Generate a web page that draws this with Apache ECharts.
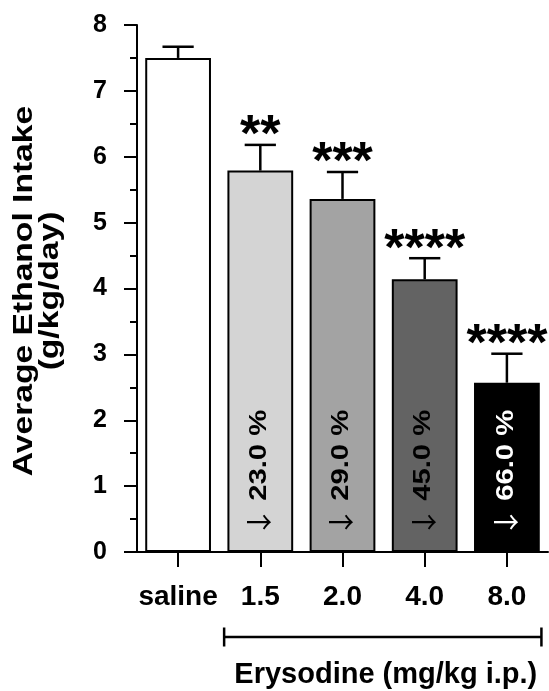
<!DOCTYPE html>
<html>
<head>
<meta charset="utf-8">
<script src="https://cdn.jsdelivr.net/npm/echarts@6/dist/echarts.min.js"></script>
<style>
html,body{margin:0;padding:0;background:#fff;}
#main{width:549px;height:691px;}
</style>
</head>
<body>
<div id="main"></div>
<script>
// ---- data ----
var categories = ['saline', '1.5', '2.0', '4.0', '8.0'];
var means = [7.50, 5.79, 5.36, 4.14, 2.57];
var sems = [0.17, 0.39, 0.41, 0.32, 0.44];
var stars = ['', '**', '***', '****', '****'];
var reductions = [null, 23.0, 29.0, 45.0, 66.0];
var fills = ['#ffffff', '#d4d4d4', '#a3a3a3', '#636363', '#000000'];
var labelColors = ['#000000', '#000000', '#000000', '#000000', '#ffffff'];
var yTicks = [0, 1, 2, 3, 4, 5, 6, 7, 8];
var yTitle = 'Average Ethanol Intake\n(g/kg/day)';
var groupName = 'Erysodine (mg/kg i.p.)';
var groupRange = [1, 4];

var FONT = '"Liberation Sans", Arial, sans-serif';
var chart = echarts.init(document.getElementById('main'), null, {renderer: 'canvas'});

var barData = means.map(function (v, i) {
  return {value: v, itemStyle: {color: fills[i]}};
});
var errData = means.map(function (v, i) { return [i, v, v + sems[i], stars[i]]; });
var redData = reductions.map(function (r, i) { return [i, 0, r]; });

var option = {
  animation: false,
  backgroundColor: '#ffffff',
  grid: {left: 137, right: 1, top: 25, bottom: 139, containLabel: false, outerBoundsMode: 'none'},
  graphic: [{
    type: 'text',
    x: 37, y: 291,
    rotation: Math.PI / 2,
    scaleX: 1.2,
    style: {
      text: yTitle, align: 'center', verticalAlign: 'middle',
      fontSize: 28, fontWeight: 'bold', fontFamily: FONT, lineHeight: 26, fill: '#000'
    }
  }],
  xAxis: {
    type: 'category',
    data: categories,
    axisLine: {lineStyle: {color: '#000', width: 2}},
    axisTick: {show: true, alignWithLabel: true, length: 15, lineStyle: {color: '#000', width: 2}},
    axisLabel: {color: '#000', fontSize: 28, fontWeight: 'bold', fontFamily: FONT, margin: 31, interval: 0},
    splitLine: {show: false}
  },
  yAxis: {
    type: 'value',
    min: 0, max: 8, interval: 1,
    axisLine: {show: true, lineStyle: {color: '#000', width: 2}},
    axisTick: {show: true, length: 13, lineStyle: {color: '#000', width: 2}},
    minorTick: {show: true, splitNumber: 2, length: 7, lineStyle: {color: '#000', width: 2}},
    axisLabel: {
      color: '#000', fontSize: 25, fontWeight: 'bold', fontFamily: FONT, margin: 30,
      formatter: function (v) { return yTicks.indexOf(v) >= 0 ? String(v) : ''; }
    },
    splitLine: {show: false}
  },
  series: [
    {
      type: 'bar',
      data: barData,
      barWidth: '80%',
      itemStyle: {borderColor: '#000', borderWidth: 2},
      z: 2
    },
    {
      type: 'custom',
      data: redData,
      z: 4,
      clip: false,
      silent: true,
      renderItem: function (params, api) {
        var r = reductions[params.dataIndex];
        if (r == null) return null;
        var base = api.coord([api.value(0), 0]);
        var col = labelColors[params.dataIndex];
        return {
          type: 'text',
          x: base[0] - 1, y: base[1] - 14,
          rotation: Math.PI / 2,
          scaleX: 1.22,
          style: {
            text: '{a|\u2193}{s| }' + r.toFixed(1) + ' %',
            align: 'left', verticalAlign: 'middle',
            fontSize: 24, fontWeight: 'bold', fontFamily: FONT, fill: col,
            rich: {
              a: {fontFamily: '"Noto Sans CJK SC", "DejaVu Sans", sans-serif', fontWeight: 'normal', fontSize: 26, fill: col},
              s: {fontSize: 16, fill: col}
            }
          }
        };
      }
    },
    {
      type: 'custom',
      data: errData,
      z: 3,
      clip: false,
      renderItem: function (params, api) {
        var i = api.value(0);
        var base = api.coord([i, api.value(1)]);
        var top = api.coord([i, api.value(2)]);
        var half = api.size([1, 0])[0] * 0.19;
        var st = errData[params.dataIndex][3];
        var children = [
          {type: 'line', shape: {x1: base[0], y1: base[1], x2: top[0], y2: top[1]}, style: {stroke: '#000', lineWidth: 2.5}},
          {type: 'line', shape: {x1: top[0] - half, y1: top[1], x2: top[0] + half, y2: top[1]}, style: {stroke: '#000', lineWidth: 2.5}}
        ];
        if (st) {
          children.push({
            type: 'text',
            style: {
              text: st, x: top[0], y: top[1] + 18,
              align: 'center', verticalAlign: 'bottom',
              fontSize: 52, fontWeight: 'bold', fontFamily: FONT, fill: '#000'
            }
          });
        }
        return {type: 'group', children: children};
      }
    },
    {
      type: 'custom',
      data: [[groupRange[0], groupRange[1]]],
      z: 3,
      clip: false,
      silent: true,
      renderItem: function (params, api) {
        var a = api.coord([api.value(0), 0]);
        var b = api.coord([api.value(1), 0]);
        var band = api.size([1, 0])[0];
        var x1 = a[0] - band * 0.44;
        var x2 = b[0] + band * 0.42;
        var y = a[1] + 85;
        var cap = 9.5;
        return {
          type: 'group',
          children: [
            {type: 'line', shape: {x1: x1, y1: y, x2: x2, y2: y}, style: {stroke: '#000', lineWidth: 2.5}},
            {type: 'line', shape: {x1: x1, y1: y - cap, x2: x1, y2: y + cap}, style: {stroke: '#000', lineWidth: 2.5}},
            {type: 'line', shape: {x1: x2, y1: y - cap, x2: x2, y2: y + cap}, style: {stroke: '#000', lineWidth: 2.5}},
            {type: 'text', style: {
              text: groupName, x: (x1 + x2) / 2 + 3, y: a[1] + 123,
              align: 'center', verticalAlign: 'middle',
              fontSize: 29, fontWeight: 'bold', fontFamily: FONT, fill: '#000'
            }}
          ]
        };
      }
    }
  ]
};
chart.setOption(option);
</script>
</body>
</html>
